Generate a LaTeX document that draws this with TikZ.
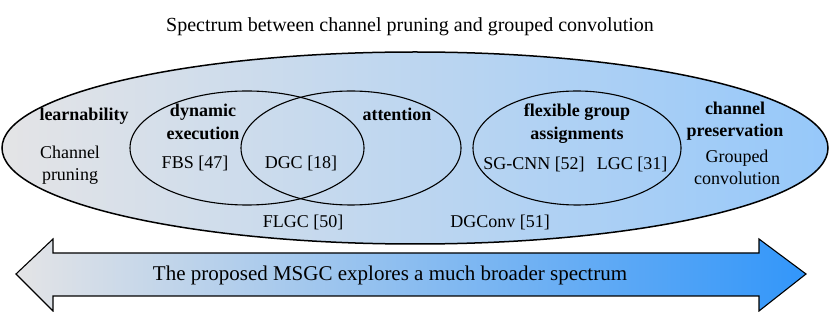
\documentclass[tikz,border=0pt]{standalone}
\usepackage{fontspec}
\setmainfont{Liberation Serif}
\definecolor{lgray}{RGB}{228,228,230}
\definecolor{lblue}{RGB}{150,200,250}
\definecolor{dblue}{RGB}{50,150,250}
\begin{document}
\begin{tikzpicture}[x=1pt,y=-1pt,
  txt/.style={anchor=base,inner sep=0pt,font=\fontsize{18}{22}\selectfont},
  btxt/.style={anchor=base,inner sep=0pt,font=\fontsize{18}{22}\selectfont\bfseries},
  ttl/.style={anchor=base,inner sep=0pt,font=\fontsize{20}{24}\selectfont},
  atxt/.style={anchor=base,inner sep=0pt,font=\fontsize{21}{25}\selectfont},
  ring/.style={draw=black,line width=1.1pt}]
\useasboundingbox (0,0) rectangle (830,312);
% big ellipse
\path[ring,left color=lgray,right color=lblue,line width=1.5pt] (415,148) ellipse [x radius=413,y radius=96];
% inner ellipses
\draw[ring] (247,148) ellipse [x radius=117,y radius=57];
\draw[ring] (351,148) ellipse [x radius=110,y radius=57];
\draw[ring] (577,148) ellipse [x radius=104,y radius=57];
% title
\node[ttl] (title) at (410,31.5) {Spectrum between channel pruning and grouped convolution};
% labels
\node[btxt] (learn) at (84,121) {learnability};
\node[txt] (cp1) at (70,159) {Channel};
\node[txt] (cp2) at (70,181) {pruning};
\node[btxt] (dyn1) at (203,117) {dynamic};
\node[btxt] (dyn2) at (203,140) {execution};
\node[txt] (fbs) at (195,169) {FBS [47]};
\node[txt] (dgc) at (301,169) {DGC [18]};
\node[btxt] (att) at (397,121) {attention};
\node[txt] (flgc) at (303,228) {FLGC [50]};
\node[txt] (dgconv) at (500,228) {DGConv [51]};
\node[btxt] (fg1) at (577,117) {flexible group};
\node[btxt] (fg2) at (577,140) {assignments};
\node[txt] (sg) at (534,170) {SG-CNN [52]};
\node[txt] (lgc) at (632,170) {LGC [31]};
\node[btxt] (ch1) at (735,115) {channel};
\node[btxt] (ch2) at (735,137) {preservation};
\node[txt] (gc1) at (737,163) {Grouped};
\node[txt] (gc2) at (737,185) {convolution};
% double arrow
\path[draw=black,line width=1.1pt,line join=miter,left color=lgray,right color=dblue]
  (16,274) -- (53,239) -- (53,253) -- (759,253) -- (759,239) -- (806,274)
  -- (759,311) -- (759,296) -- (53,296) -- (53,311) -- cycle;
\node[atxt] (arrtxt) at (390,281) {The proposed MSGC explores a much broader spectrum};
\end{tikzpicture}
\end{document}
